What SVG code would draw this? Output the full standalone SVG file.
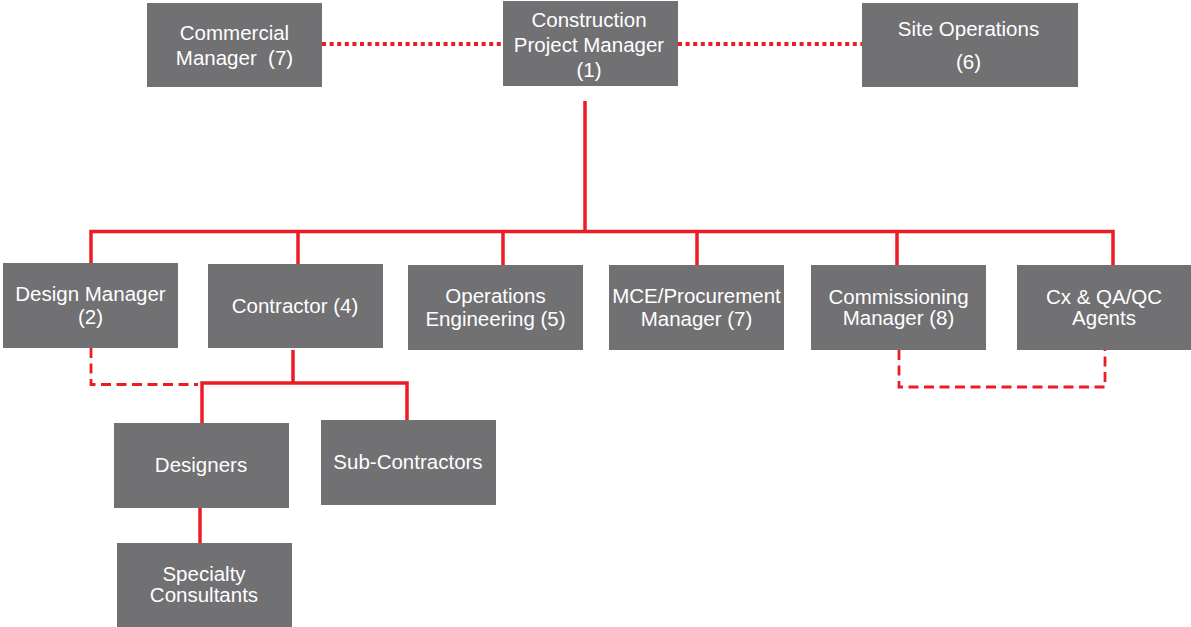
<svg xmlns="http://www.w3.org/2000/svg" width="1191" height="627" viewBox="0 0 1191 627">
<style>
.box{fill:#717073}
.t{font-family:"Liberation Sans",Arial,sans-serif;font-size:20.5px;fill:#ffffff;text-anchor:middle}
.solid{stroke:#ED1C24;stroke-width:3.5;fill:none}
.dot{stroke:#ED1C24;stroke-width:4;stroke-dasharray:4 3.6;fill:none}
.dash{stroke:#ED1C24;stroke-width:2.8;stroke-dasharray:10 5.5;fill:none}
</style>
<rect width="1191" height="627" fill="#ffffff"/>
<g id="connectors">
<path class="dot" d="M322 44H503"/>
<path class="dot" d="M678 44H862"/>
<path class="solid" d="M585 101V231.5"/>
<path class="solid" d="M91 263V231.5H1113V265"/>
<path class="solid" d="M298 231.5V264"/>
<path class="solid" d="M503 231.5V265"/>
<path class="solid" d="M697 231.5V265"/>
<path class="solid" d="M897 231.5V265"/>
<path class="solid" d="M293 350V383"/>
<path class="solid" d="M202 423V383H407V420"/>
<path class="solid" d="M200 508V544"/>
<path class="dash" d="M91 348V384.5H198"/>
<path class="dash" d="M899 350V387H1105V350"/>
</g>
<g id="commercial"><rect class="box" x="147" y="3" width="175" height="84"/><text class="t" x="234.5" y="40">Commercial</text><text class="t" x="234.5" y="65" xml:space="preserve">Manager  (7)</text></g>
<g id="cpm"><rect class="box" x="503" y="1" width="175" height="85"/><text class="t" x="589" y="27">Construction</text><text class="t" x="589" y="52">Project Manager</text><text class="t" x="589" y="77">(1)</text></g>
<g id="siteops"><rect class="box" x="862" y="3" width="216" height="84"/><text class="t" x="968.5" y="36">Site Operations</text><text class="t" x="968.5" y="69">(6)</text></g>
<g id="design"><rect class="box" x="3" y="263" width="175" height="85"/><text class="t" x="90.5" y="301">Design Manager</text><text class="t" x="90.5" y="324">(2)</text></g>
<g id="contractor"><rect class="box" x="208" y="264" width="175" height="84"/><text class="t" x="295" y="313">Contractor (4)</text></g>
<g id="opseng"><rect class="box" x="408" y="265" width="175" height="85"/><text class="t" x="495.5" y="303">Operations</text><text class="t" x="495.5" y="326">Engineering (5)</text></g>
<g id="mce"><rect class="box" x="609" y="265" width="175" height="85"/><text class="t" x="696.5" y="303">MCE/Procurement</text><text class="t" x="696.5" y="326">Manager (7)</text></g>
<g id="commissioning"><rect class="box" x="811" y="265" width="175" height="85"/><text class="t" x="898.5" y="304">Commissioning</text><text class="t" x="898.5" y="325">Manager (8)</text></g>
<g id="cxqa"><rect class="box" x="1017" y="265" width="174" height="85"/><text class="t" x="1104" y="304">Cx &amp; QA/QC</text><text class="t" x="1104" y="325">Agents</text></g>
<g id="designers"><rect class="box" x="114" y="423" width="175" height="85"/><text class="t" x="201" y="472">Designers</text></g>
<g id="subcontractors"><rect class="box" x="321" y="420" width="175" height="85"/><text class="t" x="408" y="469">Sub-Contractors</text></g>
<g id="specialty"><rect class="box" x="117" y="543" width="175" height="84"/><text class="t" x="204" y="581">Specialty</text><text class="t" x="204" y="602">Consultants</text></g>
</svg>
